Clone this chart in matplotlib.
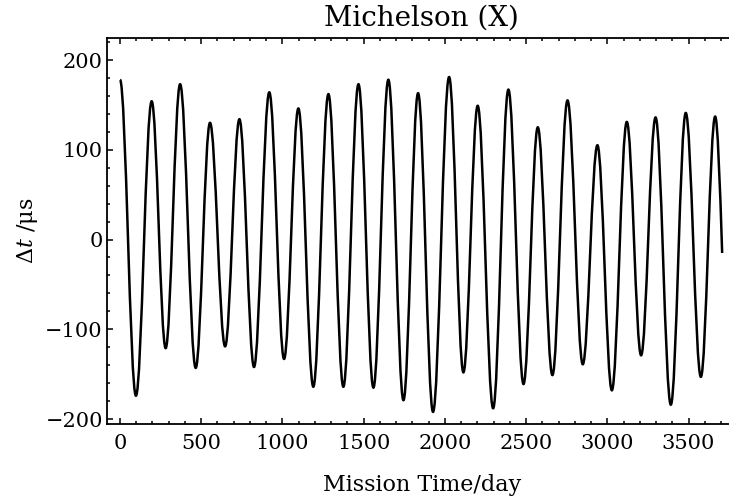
import matplotlib
matplotlib.use('Agg')
import matplotlib.pyplot as plt
import numpy as np
from matplotlib.path import Path
from matplotlib.patches import PathPatch
from matplotlib.ticker import MultipleLocator

plt.rcParams['font.family'] = 'DejaVu Serif'
plt.rcParams['mathtext.fontset'] = 'dejavuserif'

# Data: turning points of the curve (day, delta t in microseconds)
days = [0, 98, 195, 281, 370, 466, 554, 647, 735, 825, 919, 1010, 1098, 1190,
        1283, 1375, 1468, 1560, 1652, 1745, 1835, 1927, 2026, 2114, 2202, 2297,
        2391, 2484, 2572, 2662, 2755, 2849, 2939, 3028, 3120, 3208, 3297, 3391,
        3483, 3576, 3664]
dt_us = [178, -174, 154, -121, 173, -143, 130, -119, 134, -142, 164, -133, 146, -164,
         162, -164, 173, -165, 178, -179, 163, -192, 181, -148, 149, -188,
         167, -161, 125, -151, 155, -139, 105, -168, 131, -129, 136, -184,
         141, -153, 137]
# last sample of the series (the curve stops mid-swing)
end_day = 3707
end_dt = -15

# smooth curve between turning points as cubic Bezier segments
k = 1 - 2 / np.pi
verts = [(days[0], dt_us[0])]
codes = [Path.MOVETO]
for x0, y0, x1, y1 in zip(days[:-1], dt_us[:-1], days[1:], dt_us[1:]):
    dx = x1 - x0
    verts += [(x0 + k * dx, y0), (x1 - k * dx, y1), (x1, y1)]
    codes += [Path.CURVE4] * 3
# final partial swing: flat at the last peak, steep at the end sample
x0, y0 = days[-1], dt_us[-1]
dx = end_day - x0
verts += [(x0 + dx / 3, y0), (end_day - dx / 3, end_dt + (y0 - end_dt) * np.pi / 6),
          (end_day, end_dt)]
codes += [Path.CURVE4] * 3

fig = plt.figure(figsize=(7.29, 4.99), dpi=100)
ax = fig.add_axes([0.1468, 0.1513, 1.01 - 0.1468, 0.9232 - 0.1513])

ax.add_patch(PathPatch(Path(verts, codes), fill=False, edgecolor='black', lw=1.8))

ax.set_xlim(-80, 3794)
ax.set_ylim(-205, 224.2)

ax.xaxis.set_major_locator(MultipleLocator(500))
ax.xaxis.set_minor_locator(MultipleLocator(100))
ax.yaxis.set_major_locator(MultipleLocator(100))
ax.yaxis.set_minor_locator(MultipleLocator(20))

ax.tick_params(which='both', direction='in', top=True, right=False, colors='black',
               labelsize=15, width=1.1)
ax.tick_params(which='major', length=4.5)
ax.tick_params(which='minor', length=2.5)
ax.tick_params(axis='y', pad=3)
ax.tick_params(axis='x', pad=7.5)
for s in ax.spines.values():
    s.set_linewidth(1.3)
ax.spines['right'].set_visible(False)

ax.set_title('Michelson (X)', fontsize=20, pad=9)
ax.set_xlabel('Mission Time/day', fontsize=16, labelpad=15)
ax.set_ylabel('Δ$t$ /μs', fontsize=16, labelpad=4)

fig.savefig('out.png', dpi=100)
